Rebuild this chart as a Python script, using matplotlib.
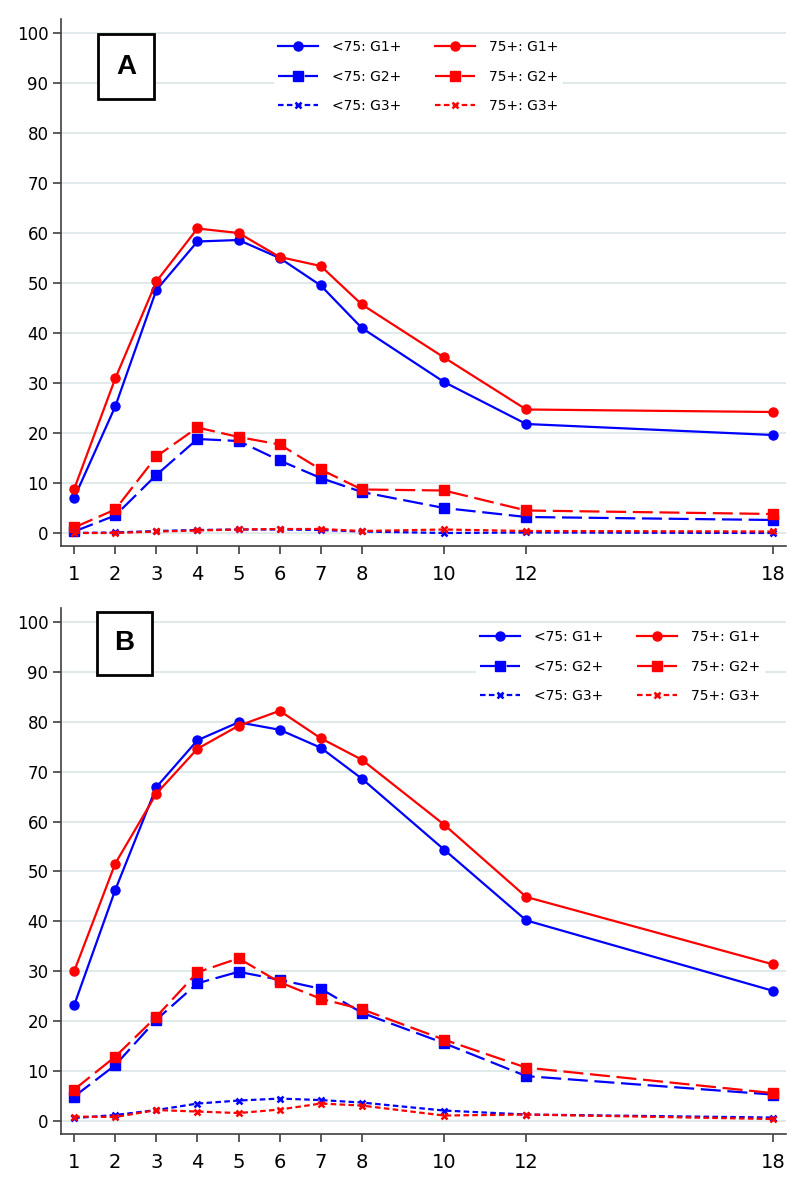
import matplotlib
matplotlib.use("Agg")
import matplotlib.pyplot as plt
from matplotlib.patches import Rectangle

plt.rcParams['font.family'] = ['DejaVu Sans']

months = [1, 2, 3, 4, 5, 6, 7, 8, 10, 12, 18]
xticks = [1, 2, 3, 4, 5, 6, 7, 8, 10, 12, 18]
yticks = [0, 10, 20, 30, 40, 50, 60, 70, 80, 90, 100]

# Panel A
a_u75_g1 = [7.0, 25.3, 48.6, 58.3, 58.6, 55.0, 49.5, 41.0, 30.2, 21.8, 19.6]
a_o75_g1 = [8.8, 30.9, 50.3, 60.9, 60.0, 55.2, 53.4, 45.7, 35.1, 24.7, 24.2]
a_u75_g2 = [0.3, 3.5, 11.6, 18.8, 18.4, 14.5, 11.0, 8.2, 5.0, 3.2, 2.6]
a_o75_g2 = [1.1, 4.7, 15.3, 21.1, 19.2, 17.7, 12.7, 8.7, 8.5, 4.5, 3.8]
a_u75_g3 = [0.0, 0.1, 0.4, 0.6, 0.7, 0.7, 0.6, 0.3, 0.0, 0.1, 0.0]
a_o75_g3 = [0.0, 0.0, 0.3, 0.5, 0.7, 0.8, 0.8, 0.4, 0.7, 0.4, 0.3]

# Panel B
b_u75_g1 = [23.2, 46.3, 66.9, 76.3, 79.9, 78.4, 74.8, 68.6, 54.4, 40.2, 26.1]
b_o75_g1 = [30.0, 51.6, 65.6, 74.6, 79.2, 82.2, 76.7, 72.4, 59.4, 44.9, 31.4]
b_u75_g2 = [4.9, 11.2, 20.3, 27.6, 29.9, 28.3, 26.5, 21.7, 15.6, 9.0, 5.3]
b_o75_g2 = [6.3, 12.9, 20.9, 29.8, 32.6, 27.8, 24.5, 22.4, 16.3, 10.7, 5.6]
b_u75_g3 = [0.6, 1.2, 2.2, 3.5, 4.1, 4.5, 4.2, 3.7, 2.1, 1.3, 0.7]
b_o75_g3 = [0.9, 0.8, 2.2, 1.9, 1.6, 2.3, 3.5, 3.1, 1.1, 1.3, 0.4]

labels = ["<75: G1+", "75+: G1+", "<75: G2+", "75+: G2+", "<75: G3+", "75+: G3+"]

W, H = 800, 1187
fig = plt.figure(figsize=(W / 100, H / 100), dpi=100)

BLUE = (0, 0, 1)
RED = (1, 0, 0)
styles = {
    'g1': dict(linestyle='-', marker='o', markersize=6.5),
    'g2': dict(linestyle=(0, (9, 3)), marker='s', markersize=6.5),
    'g3': dict(linestyle=(0, (2.5, 1.5)), marker='x', markersize=4, markeredgewidth=1.8),
}


def px_axes(left, top, right, bottom):
    return fig.add_axes([left / W, 1 - bottom / H, (right - left) / W, (bottom - top) / H])


def panel(ax, data, letter, box, leg_anchor):
    u1, o1, u2, o2, u3, o3 = data
    handles = {}
    for key, ser, col, lab in [('g1', u1, BLUE, labels[0]), ('g1', o1, RED, labels[1]),
                               ('g2', u2, BLUE, labels[2]), ('g2', o2, RED, labels[3]),
                               ('g3', u3, BLUE, labels[4]), ('g3', o3, RED, labels[5])]:
        st = styles[key]
        ln, = ax.plot(months, ser, color=col, lw=1.6, markerfacecolor=col,
                      markeredgecolor=col, label=lab, zorder=3, **st)
        handles[lab] = ln
    ax.set_xlim(0.68, 18.32)
    ax.set_ylim(-2.6, 102.8)
    ax.set_xticks(xticks)
    ax.set_yticks(yticks)
    ax.tick_params(axis='y', labelsize=12, length=6, width=1.2, color='#404040', pad=3)
    ax.tick_params(axis='x', labelsize=14, length=6, width=1.2, color='#404040', pad=8)
    for s in ['top', 'right']:
        ax.spines[s].set_visible(False)
    for s in ['left', 'bottom']:
        ax.spines[s].set_color('#404040')
        ax.spines[s].set_linewidth(1.2)
    ax.yaxis.grid(True, color='#e0eaea', lw=1.5, zorder=0)
    ax.set_axisbelow(True)
    order = [labels[0], labels[2], labels[4], labels[1], labels[3], labels[5]]
    leg = ax.legend([handles[l] for l in order], order, ncol=2, loc='upper left',
                    bbox_to_anchor=(leg_anchor[0] / W, 1 - leg_anchor[1] / H),
                    bbox_transform=fig.transFigure,
                    fontsize=10, frameon=True, facecolor='white', edgecolor='none',
                    framealpha=1, fancybox=False, handlelength=2.9, handletextpad=1.0,
                    columnspacing=2.4, labelspacing=1.12, borderpad=0.3)
    leg.set_zorder(5)
    x0, y0, x1, y1 = box
    rect = Rectangle((x0 / W, 1 - y1 / H), (x1 - x0) / W, (y1 - y0) / H,
                     transform=fig.transFigure, fill=True, facecolor='white',
                     edgecolor='black', lw=2, zorder=6)
    fig.add_artist(rect)
    fig.text((x0 + x1) / 2 / W, 1 - (y0 + y1) / 2 / H, letter, ha='center', va='center',
             fontsize=20, fontweight='bold', family=['Liberation Sans', 'DejaVu Sans'],
             zorder=7)


axA = px_axes(61, 19, 786, 546)
panel(axA, [a_u75_g1, a_o75_g1, a_u75_g2, a_o75_g2, a_u75_g3, a_o75_g3], 'A',
      (98, 34, 154, 99), (267, 29))

axB = px_axes(61, 608, 786, 1134)
panel(axB, [b_u75_g1, b_o75_g1, b_u75_g2, b_o75_g2, b_u75_g3, b_o75_g3], 'B',
      (97, 612, 152, 675), (469, 619))

fig.savefig('out.png', dpi=100)
